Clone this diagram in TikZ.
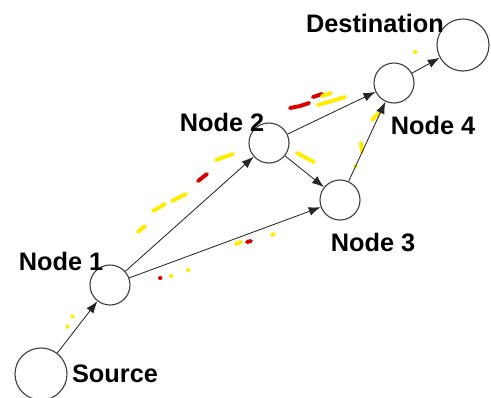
\documentclass[tikz,border=0pt]{standalone}
\usepackage{fontspec}
\setmainfont{Liberation Sans}
\usetikzlibrary{arrows.meta}

\tikzset{
  host/.style={draw=black!75, circle, thick, minimum size=1cm, inner sep=0pt},
  endhost/.style={host, minimum size=1.3cm},
  lbl/.style={font=\bfseries\fontsize{18}{21}\selectfont},
  link/.style={-{Latex[length=3mm,width=2.2mm]}, semithick, black!85},
  ylw/.style={line width=2.8pt, line cap=round, yellow!95!orange},
  rd/.style={line width=2.8pt, line cap=round, red!85!black}
}

\begin{document}
\begin{tikzpicture}[x=0.025cm, y=-0.025cm]
            \useasboundingbox (0,0) rectangle (491,397);
            \node[endhost] (src) at (41,374) {};
            \node[host] (n1) at (110,285) {};
            \node[host] (n2) at (269,143) {};
            \node[host] (n3) at (340,200) {};
            \node[host] (n4) at (394,83) {};
            \node[endhost] (dst) at (463,45) {};
            \node[lbl] (srclbl) at (115,374) {Source};
            \node[lbl] (n1lbl) at (61,261) {Node 1};
            \node[lbl] (n2lbl) at (222,122) {Node 2};
            \node[lbl] (n3lbl) at (373,242) {Node 3};
            \node[lbl] (n4lbl) at (433,125) {Node 4};
            \node[lbl] (dstlbl) at (375,23) {Destination};
            \draw[ylw] (72,317) -- (73,316);
            \draw[ylw] (67,327) -- (68,326);
            \draw[ylw] (138,232) -- (145,226);
            \draw[ylw] (153,211) -- (165,204);
            \draw[ylw] (172,201) -- (186,194);
            \draw[rd] (198,181) -- (207,174);
            \draw[ylw] (216,160) -- (233,154);
            \draw[rd] (160,278) -- (160.5,278);
            \draw[ylw] (171,276) -- (171.5,276);
            \draw[ylw] (188,270) -- (188.5,270);
            \draw[ylw] (236,244) -- (241,242);
            \draw[rd] (247,242) -- (251,241);
            \draw[ylw] (272,235) -- (274,234);
            \draw[rd] (290,108) -- (300,106) -- (309,103);
            \draw[rd] (313,97) -- (322,94);
            \draw[ylw] (322,96) -- (331,93);
            \draw[ylw] (318,105) -- (335,100) -- (345,97);
            \draw[ylw] (297,153) -- (314,162);
            \draw[ylw] (372,120) -- (380,112);
            \draw[ylw] (361,143) -- (362,152);
            \draw[ylw] (355,166) -- (356,167);
            \draw[ylw] (415,52) -- (415.5,52);
            \draw[link] (src) -- (n1);
            \draw[link] (n1) -- (n2);
            \draw[link] (n1) -- (n3);
            \draw[link] (n2) -- (n3);
            \draw[link] (n2) -- (n4);
            \draw[link] (n3) -- (n4);
            \draw[link] (n4) -- (dst);
            \end{tikzpicture}
\end{document}
